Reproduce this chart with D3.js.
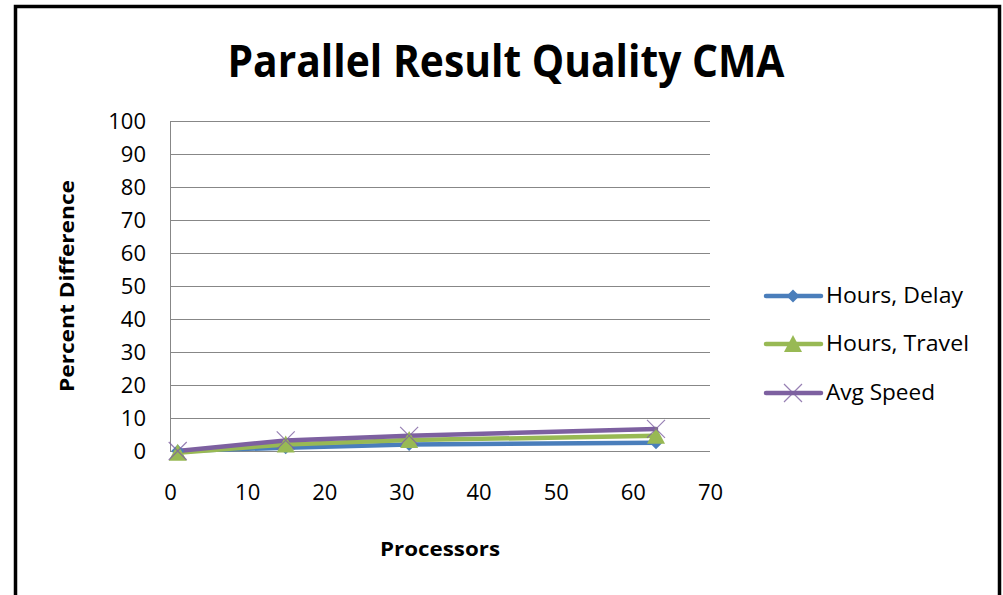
<!DOCTYPE html>
<html><head><meta charset="utf-8">
<script src="https://cdn.jsdelivr.net/npm/d3@7"></script>
<style>
html,body{margin:0;padding:0;background:#fff;}
svg{display:block;font-family:"Open Sans","Liberation Sans",sans-serif;}
</style></head>
<body><svg id="chart" width="1003" height="595"></svg>
<script>
const processors = [1, 15, 31, 63];
const hoursDelay = [0, 1.0, 2.0, 2.5];
const hoursTravel = [-0.5, 2.0, 3.3, 4.6];
const avgSpeed = [0, 3.2, 4.6, 6.7];
const seriesNames = ["Hours, Delay", "Hours, Travel", "Avg Speed"];
const seriesColors = ["#4A7EBB", "#98B954", "#7D60A0"];
const markerTypes = ["diamond", "triangle", "x"];
const yTicks = [0, 10, 20, 30, 40, 50, 60, 70, 80, 90, 100];
const xTicks = [0, 10, 20, 30, 40, 50, 60, 70];
const title = "Parallel Result Quality CMA";
const xTitle = "Processors";
const yTitle = "Percent Difference";

const svg = d3.select("#chart");
svg.append("rect").attr("x", 0).attr("y", 0).attr("width", 1003).attr("height", 595).attr("fill", "#fff");
// outer frame
svg.append("path").attr("d", "M15.5,600 V6.5 H999.5 V600").attr("fill", "none").attr("stroke", "#000").attr("stroke-width", 3.5);

const x = d3.scaleLinear().domain([0, 70]).range([170, 710]);
const y = d3.scaleLinear().domain([0, 100]).range([451, 121]);

// gridlines
svg.append("g").selectAll("line").data(yTicks).join("line")
  .attr("x1", x(0)).attr("x2", x(70))
  .attr("y1", d => Math.round(y(d)) + 0.5).attr("y2", d => Math.round(y(d)) + 0.5)
  .attr("stroke", "#878787").attr("stroke-width", 1);
svg.append("line").attr("x1", x(0) + 0.5).attr("x2", x(0) + 0.5)
  .attr("y1", y(100)).attr("y2", y(0)).attr("stroke", "#878787");

// y tick labels
const yAxis = d3.axisLeft(y).tickValues(yTicks).tickSize(0).tickPadding(24);
const ya = svg.append("g").attr("transform", `translate(${x(0)},0)`).call(yAxis);
ya.select(".domain").remove();
ya.selectAll("text").attr("font-size", 22).attr("fill", "#000").attr("font-family", "Open Sans, sans-serif").attr("dy", "0.35em");

const xAxis = d3.axisBottom(x).tickValues(xTicks).tickSize(0).tickPadding(33);
const xa = svg.append("g").attr("transform", `translate(0,${y(0)})`).call(xAxis);
xa.select(".domain").remove();
xa.selectAll("text").attr("font-size", 22).attr("fill", "#000").attr("font-family", "Open Sans, sans-serif");

// titles
svg.append("text").attr("x", 506).attr("y", 77).attr("text-anchor", "middle")
  .attr("font-size", 44).attr("font-weight", "bold").attr("textLength", 557).attr("lengthAdjust", "spacingAndGlyphs")
  .text(title);
svg.append("text").attr("x", 440).attr("y", 556).attr("text-anchor", "middle")
  .attr("font-size", 20).attr("font-weight", "bold").attr("textLength", 120).attr("lengthAdjust", "spacingAndGlyphs")
  .text(xTitle);
svg.append("text").attr("transform", "translate(74,286) rotate(-90)").attr("text-anchor", "middle")
  .attr("font-size", 20).attr("font-weight", "bold").attr("textLength", 212).attr("lengthAdjust", "spacingAndGlyphs")
  .text(yTitle);

const allSeries = [hoursDelay, hoursTravel, avgSpeed].map((vals, i) => ({
  name: seriesNames[i], color: seriesColors[i], marker: markerTypes[i],
  pts: processors.map((p, j) => [p, vals[j]])
}));

const line = d3.line().x(d => x(d[0])).y(d => y(d[1]));
svg.append("g").selectAll("path").data(allSeries).join("path")
  .attr("d", d => line(d.pts)).attr("fill", "none").attr("stroke", d => d.color)
  .attr("stroke-width", 4.5).attr("stroke-linejoin", "round").attr("stroke-linecap", "round");

function drawMarker(g, type, color, cx, cy) {
  if (type === "diamond") {
    g.append("path").attr("d", `M${cx},${cy - 6.5} L${cx + 6.5},${cy} L${cx},${cy + 6.5} L${cx - 6.5},${cy} Z`).attr("fill", color);
  } else if (type === "triangle") {
    g.append("path").attr("d", `M${cx},${cy - 9} L${cx + 9},${cy + 8} L${cx - 9},${cy + 8} Z`).attr("fill", color);
  } else {
    g.append("path").attr("d", `M${cx - 9},${cy - 9} L${cx + 9},${cy + 9} M${cx - 9},${cy + 9} L${cx + 9},${cy - 9}`)
      .attr("stroke", color).attr("stroke-width", 1.2).attr("fill", "none").attr("opacity", 0.8);
  }
}
const mg = svg.append("g");
allSeries.forEach(s => s.pts.forEach(p => drawMarker(mg, s.marker, s.color, x(p[0]), y(p[1]))));

// legend
const legendY = [296, 344, 393];
const legendWidths = [137, 143, 109];
allSeries.forEach((s, i) => {
  const g = svg.append("g");
  g.append("line").attr("x1", 766).attr("x2", 821).attr("y1", legendY[i]).attr("y2", legendY[i])
    .attr("stroke", s.color).attr("stroke-width", 4.5).attr("stroke-linecap", "round");
  drawMarker(g, s.marker, s.color, 793, legendY[i]);
  g.append("text").attr("x", 826).attr("y", legendY[i]).attr("dy", "0.35em")
    .attr("font-size", 21).attr("fill", "#000")
    .attr("textLength", legendWidths[i]).attr("lengthAdjust", "spacingAndGlyphs").text(s.name);
});
</script></body></html>
